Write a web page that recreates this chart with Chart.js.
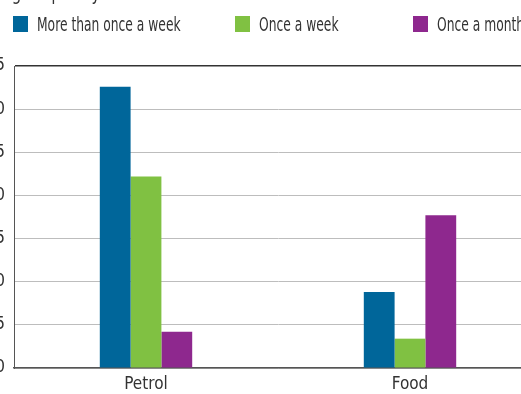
<!DOCTYPE html>
<html>
<head>
<meta charset="utf-8">
<title>Purchasing frequency</title>
<script src="https://cdn.jsdelivr.net/npm/chart.js@4.4.1/dist/chart.umd.min.js"></script>
<style>
  html, body { margin: 0; padding: 0; background: #fff; overflow: hidden; }
  body { width: 521px; height: 394px; position: relative; }
  #wrap { position: absolute; left: -30px; top: -30px; }
</style>
</head>
<body>
<div id="wrap"><canvas id="freqChart" width="580" height="440"></canvas></div>
<script>
// Data
var categories = ["Petrol", "Food"];
var moreThanWeekly = [32.6, 8.8];
var onceWeekly = [22.2, 3.4];
var onceMonthly = [4.2, 17.7];
var yTicks = [0, 5, 10, 15, 20, 25, 30, 35];

var FONT = "'DejaVu Sans Condensed', 'Liberation Sans Narrow', sans-serif";
var TEXT = "#333333";

// draw text squeezed horizontally, the condensed face is still too wide
function narrowText(ctx, str, x, y, squeeze) {
  ctx.save();
  ctx.translate(x, y);
  ctx.scale(squeeze, 1);
  ctx.fillText(str, 0, 0);
  ctx.restore();
}

// Title and legend row drawn across the top
var headerPlugin = {
  id: "header",
  afterDraw: function (chart) {
    var ctx = chart.ctx;
    ctx.save();
    ctx.fillStyle = TEXT;
    ctx.textBaseline = "alphabetic";
    ctx.textAlign = "left";
    ctx.font = "22px " + FONT;
    narrowText(ctx, "Purchasing frequency", -30, 30, 0.75);

    var xs = [43, 265, 443];
    ctx.font = "19px " + FONT;
    chart.data.datasets.forEach(function (ds, i) {
      ctx.fillStyle = ds.backgroundColor;
      ctx.fillRect(xs[i], 46, 15, 16);
      ctx.fillStyle = TEXT;
      narrowText(ctx, ds.label, xs[i] + 24, 61, 0.72);
    });
    ctx.restore();
  }
};

var ctx = document.getElementById("freqChart").getContext("2d");
var freqChart = new Chart(ctx, {
  type: "bar",
  data: {
    labels: categories,
    datasets: [
      { label: "More than once a week", data: moreThanWeekly, backgroundColor: "#00669a" },
      { label: "Once a week", data: onceWeekly, backgroundColor: "#80c142" },
      { label: "Once a month", data: onceMonthly, backgroundColor: "#8e288e" }
    ]
  },
  options: {
    responsive: false,
    animation: false,
    devicePixelRatio: 1,
    layout: { padding: { top: 96, left: 0, right: 8, bottom: 12 } },
    datasets: {
      bar: { categoryPercentage: 0.35, barPercentage: 1.0 }
    },
    plugins: {
      legend: { display: false },
      title: { display: false },
      tooltip: { enabled: false }
    },
    scales: {
      x: {
        afterFit: function (scale) { scale.height = 30; },
        grid: { display: false, drawTicks: false },
        border: { color: "#555555", width: 1.5 },
        ticks: { color: TEXT, padding: 6, font: { family: FONT, size: 17 } }
      },
      y: {
        min: 0,
        max: 35,
        afterFit: function (scale) { scale.width = 44; },
        afterBuildTicks: function (scale) {
          scale.ticks = yTicks.map(function (v) { return { value: v }; });
        },
        grid: {
          drawTicks: false,
          lineWidth: function (c) { return c.tick && c.tick.value === 35 ? 1.5 : 1; },
          color: function (c) { return c.tick && c.tick.value === 35 ? "#333333" : "#bdbdbd"; }
        },
        border: { color: "#555555", width: 1 },
        ticks: { color: TEXT, padding: 9, font: { family: FONT, size: 17 } }
      }
    }
  },
  plugins: [headerPlugin]
});
</script>
</body>
</html>
